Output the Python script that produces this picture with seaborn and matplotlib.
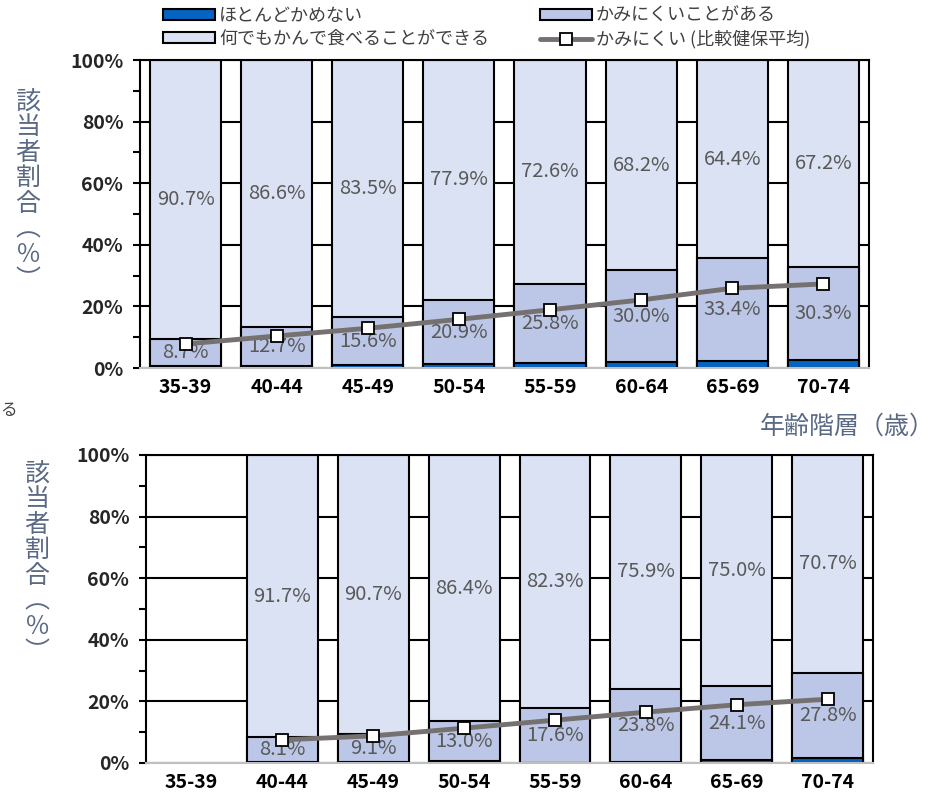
import pandas as pd
import matplotlib
matplotlib.use("Agg")
import matplotlib.pyplot as plt
import seaborn as sns
from matplotlib.patches import Patch
from matplotlib.lines import Line2D
from matplotlib.ticker import MultipleLocator, FuncFormatter

sns.set_style("white")
plt.rcParams["font.family"] = ["Noto Sans CJK JP", "DejaVu Sans"]

# Age groups
ages = ["35-39", "40-44", "45-49", "50-54", "55-59", "60-64", "65-69", "70-74"]

# Upper chart (%)
top_hard = [0.6, 0.7, 0.9, 1.2, 1.6, 1.8, 2.2, 2.5]
top_some = [8.7, 12.7, 15.6, 20.9, 25.8, 30.0, 33.4, 30.3]
top_any = [90.7, 86.6, 83.5, 77.9, 72.6, 68.2, 64.4, 67.2]
top_avg = [7.8, 10.4, 12.9, 15.8, 18.9, 22.1, 25.9, 27.3]

# Lower chart (%), no data for 35-39
bot_ages = ages[1:]
bot_hard = [0.2, 0.2, 0.6, 0.1, 0.3, 0.9, 1.5]
bot_some = [8.1, 9.1, 13.0, 17.6, 23.8, 24.1, 27.8]
bot_any = [91.7, 90.7, 86.4, 82.3, 75.9, 75.0, 70.7]
bot_avg = [7.5, 8.8, 11.3, 13.9, 16.5, 18.9, 20.7]

legend_labels = ["ほとんどかめない", "何でもかんで食べることができる",
                 "かみにくいことがある", "かみにくい (比較健保平均)"]
ylabel_text = "該\n当\n者\n割\n合\n︵\n％\n︶"

DARK = "#0563C1"
MED = "#BCC6E6"
LIGHT = "#DAE2F3"
GRAY = "#767171"
SLATE = "#5A6A85"


def draw(ax, cats, hard, some, anyv, avg):
    df = pd.DataFrame({"age": cats, "hard": hard, "some": some, "any": anyv, "avg": avg})
    df["c2"] = df["hard"] + df["some"]
    df["c3"] = df["c2"] + df["any"]

    # stacked bars drawn as overlapping cumulative bars
    for col, colr in [("c3", LIGHT), ("c2", MED), ("hard", DARK)]:
        sns.barplot(data=df, x="age", y=col, order=ages, color=colr, saturation=1,
                    edgecolor="black", linewidth=1.5, width=0.78, ax=ax, zorder=2)

    # value labels in the middle of segments
    for _, r in df.iterrows():
        i = ages.index(r["age"])
        ax.text(i, r["c2"] + r["any"] / 2, f"{r['any']:.1f}%", ha="center", va="center",
                fontsize=14.5, color="#595959", zorder=3)
        ax.text(i, r["hard"] + r["some"] / 2, f"{r['some']:.1f}%", ha="center", va="center",
                fontsize=14.5, color="#595959", zorder=3)

    sns.pointplot(data=df, x="age", y="avg", order=ages, color=GRAY, errorbar=None,
                  markers="s", linewidth=3.5, markersize=9, markerfacecolor="white",
                  markeredgecolor="black", markeredgewidth=1.3, ax=ax)
    for ln in ax.lines:
        ln.set_zorder(5)

    ax.set_xlim(-0.5, 7.5)
    ax.set_ylim(0, 100)
    ax.yaxis.set_major_locator(MultipleLocator(20))
    ax.yaxis.set_minor_locator(MultipleLocator(10))
    ax.yaxis.set_major_formatter(FuncFormatter(lambda v, p: f"{v:.0f}%"))
    ax.yaxis.grid(True, color="black", linewidth=1.5)
    ax.set_axisbelow(True)
    ax.set_xlabel("")
    ax.set_ylabel("")
    ax.tick_params(axis="x", length=0, pad=7, labelsize=14, labelcolor="black")
    ax.tick_params(axis="y", which="both", direction="out", length=5, width=1.5,
                   color="black", left=True, pad=7, labelsize=14)
    for lab in ax.get_xticklabels() + ax.get_yticklabels():
        lab.set_fontweight("bold")
    for s in ["left", "right", "top"]:
        ax.spines[s].set_color("black")
        ax.spines[s].set_linewidth(1.5)
    ax.spines["bottom"].set_color("#BFBFBF")
    ax.spines["bottom"].set_linewidth(1.5)


fig = plt.figure(figsize=(9.47, 7.99), dpi=100)
ax1 = fig.add_axes([0.1478, 0.5394, 0.7698, 0.3855])
ax2 = fig.add_axes([0.1542, 0.0451, 0.7677, 0.3855])

draw(ax1, ages, top_hard, top_some, top_any, top_avg)
draw(ax2, bot_ages, bot_hard, bot_some, bot_any, bot_avg)

# legend
handles = [
    Patch(facecolor=DARK, edgecolor="black", linewidth=1.5),
    Patch(facecolor=LIGHT, edgecolor="black", linewidth=1.5),
    Patch(facecolor=MED, edgecolor="black", linewidth=1.5),
    Line2D([], [], color=GRAY, linewidth=3.5, marker="s", markersize=9,
           markerfacecolor="white", markeredgecolor="black", markeredgewidth=1.3),
]
fig.legend(handles, legend_labels, ncol=2, loc="upper left", bbox_to_anchor=(0.155, 1.012),
           frameon=False, fontsize=13, labelcolor="#404040", handlelength=2.9,
           handleheight=0.6, handletextpad=0.2, columnspacing=2.8, labelspacing=0.3)

# vertical y labels (one stacked text per chart)
W, H = 947, 799
fig.text(28 / W, 1 - 191 / H, ylabel_text, ha="center", va="center", fontsize=18,
         color=SLATE, linespacing=0.98)
fig.text(37 / W, 1 - 563 / H, ylabel_text, ha="center", va="center", fontsize=18,
         color=SLATE, linespacing=0.98)

fig.text(935 / W, 1 - 427 / H, "年齢階層（歳）", ha="right", va="center", fontsize=18, color=SLATE)
fig.text(0, 1 - 410 / H, "る", ha="left", va="center", fontsize=12, color="#404040")

fig.savefig("out.png", dpi=100)
